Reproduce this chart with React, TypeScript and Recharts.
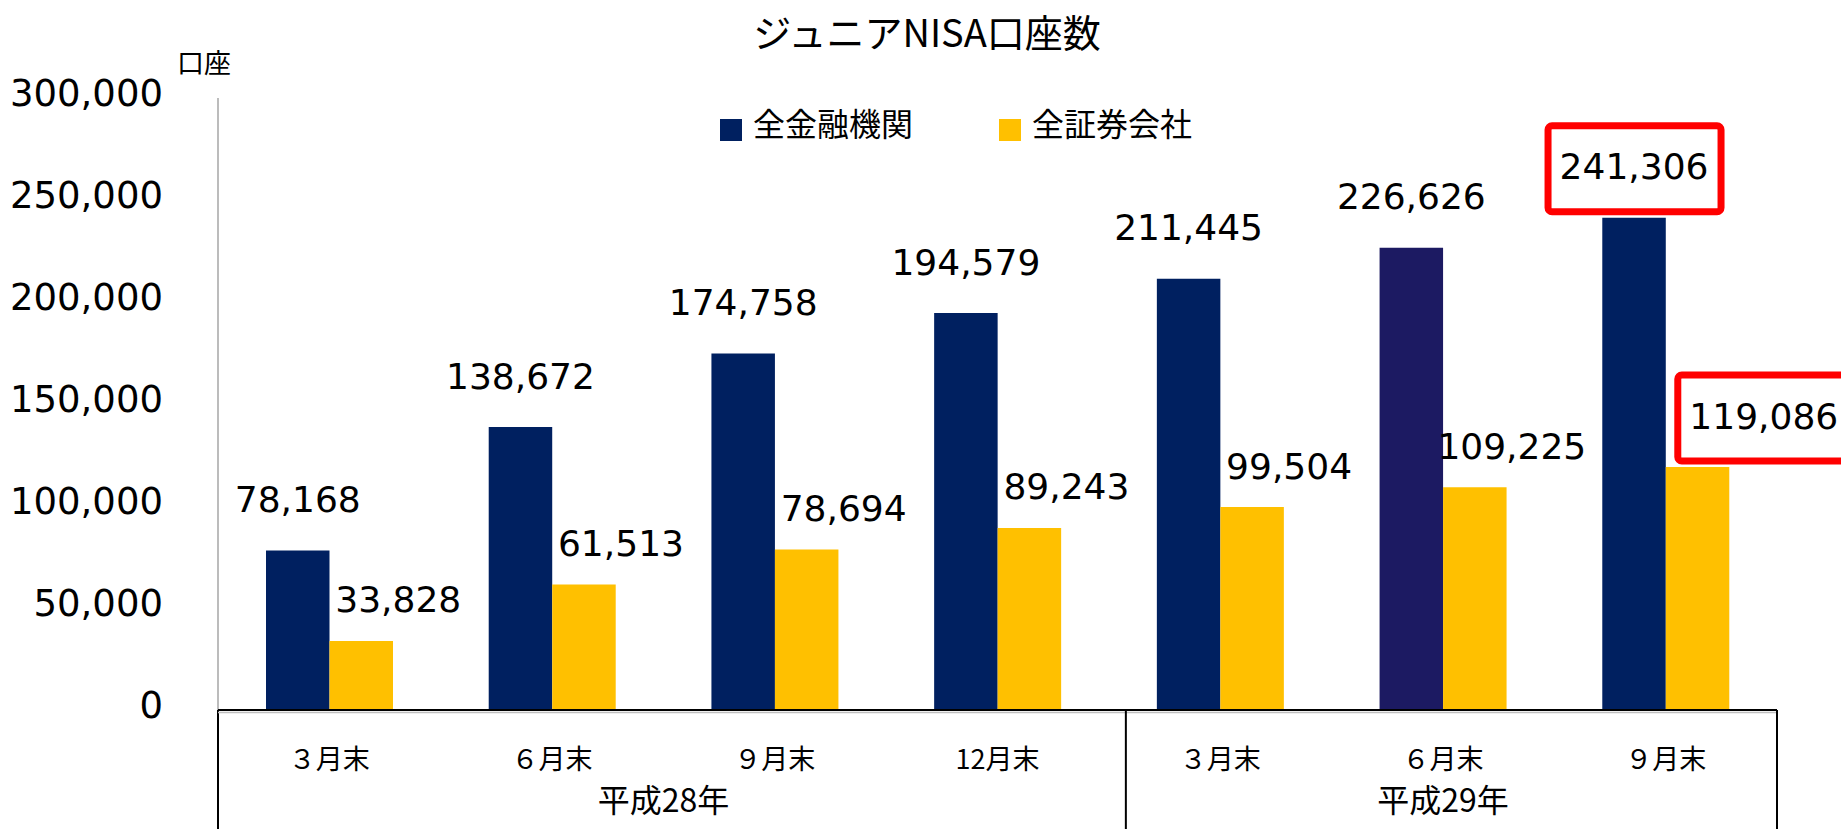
import React from 'react';
import { BarChart, Bar, XAxis, YAxis, Legend, LabelList, Cell } from 'recharts';

// ---- data ----
const categories = ['３月末', '６月末', '９月末', '12月末', '３月末', '６月末', '９月末'];
const yearGroups = ['平成28年', '平成29年'];
const yearGroupSizes = [4, 3];
const allInstitutions = [78168, 138672, 174758, 194579, 211445, 226626, 241306];
const securitiesFirms = [33828, 61513, 78694, 89243, 99504, 109225, 119086];
const yTicks = [0, 50000, 100000, 150000, 200000, 250000, 300000];
const seriesNames = ['全金融機関', '全証券会社'];
const titleText = 'ジュニアNISA口座数';
const unitText = '口座';
const highlightIndex = 6;
const altColorIndex = 5;

// ---- layout / style ----
const W = 1841;
const H = 829;
const PLOT_LEFT = 218;
const PLOT_RIGHT = 1777;
const PLOT_TOP = 98;
const PLOT_BOTTOM = 710;
const BW = (PLOT_RIGHT - PLOT_LEFT) / categories.length;
const DIV_SHIFT = 17;
const NAVY = '#002060';
const NAVY_ALT = '#1C1A62';
const YELLOW = '#FFC000';
const NUM_FONT = '"DejaVu Sans", Verdana, sans-serif';
const CJK_FONT = '"Noto Sans CJK JP", "Noto Sans", sans-serif';
const BOX_HALF_W = 86;
const BOX_UP = 41;
const BOX_DOWN = 45;

const data = categories.map((c, i) => ({
  idx: i,
  label: c,
  all: allInstitutions[i],
  sec: securitiesFirms[i],
}));

const fmt = (v: number) => Number(v).toLocaleString('en-US');

const YTick = (props: any) => {
  const { x, y, payload } = props;
  return (
    <text x={x} y={y - 5} textAnchor="end" dominantBaseline="central" fontSize={37} fontFamily={NUM_FONT} fill="#000">
      {fmt(payload.value)}
    </text>
  );
};

const groupStarts: number[] = [];
{
  let s = 0;
  yearGroupSizes.forEach((n) => {
    groupStarts.push(s);
    s += n;
  });
}

const XTick = (props: any) => {
  const { x, y, payload } = props;
  const i = Number(payload.value);
  const els: any[] = [];
  els.push(
    <text key="m" x={x} y={y + 47} textAnchor="middle" dominantBaseline="central" fontSize={27} fontFamily={CJK_FONT} fill="#000">
      {categories[i]}
    </text>
  );
  const g = groupStarts.indexOf(i);
  if (g >= 0) {
    const lx = x - BW / 2 + (i === 0 ? 0 : DIV_SHIFT);
    els.push(<line key="gl" x1={lx} x2={lx} y1={y} y2={H} stroke="#000" strokeWidth={2} />);
    const n = yearGroupSizes[g];
    const cx = x + ((n - 1) / 2) * BW;
    els.push(
      <text key="y" x={cx} y={y + 88} textAnchor="middle" dominantBaseline="central" fontSize={32} fontFamily={CJK_FONT} fill="#000">
        {yearGroups[g]}
      </text>
    );
  }
  if (i === 0) {
    els.push(<line key="gr" x1={PLOT_LEFT} x2={PLOT_RIGHT} y1={y + 2.5} y2={y + 2.5} stroke="#BFBFBF" strokeWidth={1.5} />);
  }
  if (i === categories.length - 1) {
    const rx = x + BW / 2;
    els.push(<line key="r" x1={rx} x2={rx} y1={y} y2={H} stroke="#000" strokeWidth={2} />);
  }
  return <g>{els}</g>;
};

const getBox = (props: any) => {
  const vb = props.viewBox || {};
  const x = props.x ?? vb.x;
  const y = props.y ?? vb.y;
  const width = props.width ?? vb.width;
  return { x: Number(x), y: Number(y), width: Number(width) };
};

// side = 'center' for the navy series; 'right' for the yellow series (labels pushed right of bar centre)
const makeLabel = (dx: number, dyCenter: number, side: 'center' | 'right') => (props: any) => {
  const { x, y, width } = getBox(props);
  const { value, index } = props;
  const hi = index === highlightIndex;
  let cx = x + width / 2 + dx;
  let cy = y - dyCenter;
  if (hi) {
    // highlighted labels: the box sits clear above its bar and, on the right series, clear of the neighbouring bar
    cy = y - BOX_DOWN - 6;
    if (side === 'right') cx = x + 12 + BOX_HALF_W;
  }
  return (
    <g>
      {hi && (
        <rect
          x={cx - BOX_HALF_W}
          y={cy - BOX_UP}
          width={BOX_HALF_W * 2 + 1}
          height={BOX_UP + BOX_DOWN}
          rx={4}
          ry={4}
          fill="none"
          stroke="#FF0000"
          strokeWidth={7}
        />
      )}
      <text x={cx} y={cy} textAnchor="middle" dominantBaseline="central" fontSize={36} fontFamily={NUM_FONT} fill="#000">
        {fmt(value)}
      </text>
    </g>
  );
};

const NavyLabel = makeLabel(0, 51, 'center');
const YellowLabel = makeLabel(37, 41, 'right');

const LegendContent = () => {
  const items = [
    { name: seriesNames[0], color: NAVY, left: 0 },
    { name: seriesNames[1], color: YELLOW, left: 279 },
  ];
  return (
    <div style={{ position: 'relative', width: 520, height: 44 }}>
      {items.map((it) => (
        <div key={it.name} style={{ position: 'absolute', left: it.left, top: 0, height: 40 }}>
          <div style={{ position: 'absolute', left: 0, top: 17, width: 22, height: 22, background: it.color }} />
          <div
            style={{
              position: 'absolute',
              left: 33,
              top: 0,
              whiteSpace: 'nowrap',
              fontFamily: CJK_FONT,
              fontSize: 32,
              lineHeight: '40px',
              color: '#000',
            }}
          >
            {it.name}
          </div>
        </div>
      ))}
    </div>
  );
};

export default function App() {
  return (
    <div style={{ position: 'absolute', left: 0, top: 0, width: W, height: H, background: '#fff', overflow: 'hidden' }}>
      <BarChart
        width={W}
        height={H}
        data={data}
        margin={{ top: PLOT_TOP, right: W - PLOT_RIGHT, left: 0, bottom: 0 }}
        barGap={0}
        barSize={63.5}
      >
        <YAxis
          width={PLOT_LEFT}
          domain={[0, 300000]}
          ticks={yTicks}
          interval={0}
          tickSize={0}
          tickMargin={55}
          tickLine={false}
          axisLine={{ stroke: '#A6A6A6', strokeWidth: 1.5 }}
          tick={<YTick />}
        />
        <XAxis
          dataKey="idx"
          type="category"
          height={H - PLOT_BOTTOM}
          interval={0}
          tickSize={0}
          tickMargin={0}
          tickLine={false}
          axisLine={{ stroke: '#000', strokeWidth: 2 }}
          tick={<XTick />}
        />
        <Legend
          verticalAlign="middle"
          align="center"
          layout="horizontal"
          wrapperStyle={{ top: 102, left: 720, width: 520, height: 44 }}
          content={() => <LegendContent />}
        />
        <Bar dataKey="all" name={seriesNames[0]} fill={NAVY} isAnimationActive={false}>
          {data.map((d, i) => (
            <Cell key={i} fill={i === altColorIndex ? NAVY_ALT : NAVY} />
          ))}
          <LabelList dataKey="all" content={NavyLabel} />
        </Bar>
        <Bar dataKey="sec" name={seriesNames[1]} fill={YELLOW} isAnimationActive={false}>
          <LabelList dataKey="sec" content={YellowLabel} />
        </Bar>
      </BarChart>
      <svg width={W} height={H} style={{ position: 'absolute', left: 0, top: 0, pointerEvents: 'none' }}>
        <text x={927} y={30} textAnchor="middle" dominantBaseline="central" fontSize={38} fontFamily={CJK_FONT} fill="#000">
          {titleText}
        </text>
        <text x={204} y={61} textAnchor="middle" dominantBaseline="central" fontSize={27} fontFamily={CJK_FONT} fill="#000">
          {unitText}
        </text>
      </svg>
    </div>
  );
}
